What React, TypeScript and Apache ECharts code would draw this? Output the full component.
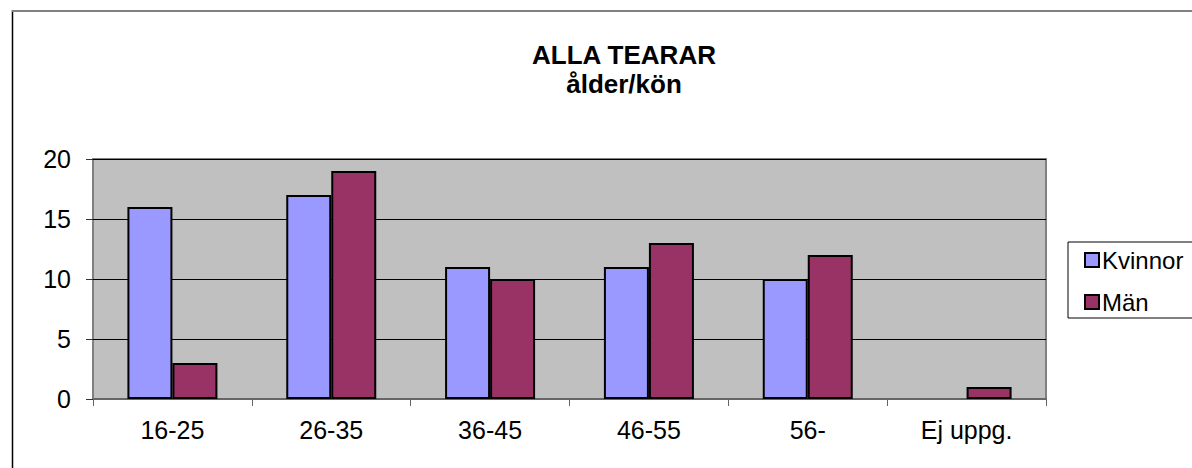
import React, { useEffect, useRef } from "react";
import * as echarts from "echarts";

const categories = ["16-25", "26-35", "36-45", "46-55", "56-", "Ej uppg."];
const kvinnor = [16, 17, 11, 11, 10, 0];
const man = [3, 19, 10, 13, 12, 1];
const yTicks = [0, 5, 10, 15, 20];

export default function App() {
  const ref = useRef<HTMLDivElement>(null);
  useEffect(() => {
    if (!ref.current) return;
    const chart = echarts.init(ref.current, undefined, { renderer: "svg" });
    const font = "Liberation Sans, Arial, sans-serif";
    const toData = (arr: number[]) =>
      arr.map((v) => (v === 0 ? { value: v, itemStyle: { borderWidth: 0 } } : v));
    chart.setOption({
      animation: false,
      backgroundColor: "#ffffff",
      textStyle: { fontFamily: font },
      title: {
        text: "ALLA TEARAR\nålder/kön",
        left: 619,
        textAlign: "center",
        top: 35,
        textStyle: { fontFamily: font, fontSize: 26, fontWeight: "bold", color: "#000", lineHeight: 29 },
      },
      graphic: [
        { type: "line", shape: { x1: 12.5, y1: 10, x2: 12.5, y2: 468 }, style: { stroke: "#000", lineWidth: 1.5 } },
        { type: "line", shape: { x1: 12, y1: 11, x2: 1192, y2: 11 }, style: { stroke: "#808080", lineWidth: 2 } },
      ],
      legend: {
        orient: "vertical",
        left: 1068,
        top: 242,
        borderColor: "#000",
        borderWidth: 1,
        padding: [6, 40, 4, 16],
        itemGap: 18,
        itemWidth: 14,
        itemHeight: 14,
        icon: "rect",
        textStyle: { fontFamily: font, fontSize: 24, color: "#000", padding: [0, 0, 0, -2] },
        data: ["Kvinnor", "Män"],
      },
      grid: {
        left: 93,
        top: 159,
        width: 953,
        height: 240,
        show: true,
        backgroundColor: "#C0C0C0",
        borderColor: "#808080",
        borderWidth: 2,
      },
      xAxis: {
        type: "category",
        data: categories,
        axisLine: { lineStyle: { color: "#666", width: 2 } },
        axisTick: { show: true, length: 7, lineStyle: { color: "#666", width: 1 } },
        axisLabel: { fontFamily: font, fontSize: 25, color: "#000", margin: 18 },
      },
      yAxis: {
        type: "value",
        min: 0,
        max: 20,
        interval: 5,
        axisLine: { show: false },
        axisTick: { show: true, length: 7, lineStyle: { color: "#333" } },
        axisLabel: {
          fontFamily: font,
          fontSize: 25,
          color: "#000",
          margin: 22,
          formatter: (v: number) => (yTicks.includes(v) ? String(v) : ""),
        },
        splitLine: { lineStyle: { color: "#000", width: 1 } },
      },
      series: [
        {
          name: "Kvinnor",
          type: "bar",
          data: toData(kvinnor),
          barWidth: 45,
          barGap: "0%",
          itemStyle: { color: "#9999FF", borderColor: "#000", borderWidth: 2 },
        },
        {
          name: "Män",
          type: "bar",
          data: toData(man),
          barWidth: 45,
          barGap: "0%",
          itemStyle: { color: "#993366", borderColor: "#000", borderWidth: 2 },
        },
      ],
    });
    return () => chart.dispose();
  }, []);
  return (
    <div
      ref={ref}
      style={{ position: "fixed", left: 0, top: 0, width: 1192, height: 468 }}
    />
  );
}
